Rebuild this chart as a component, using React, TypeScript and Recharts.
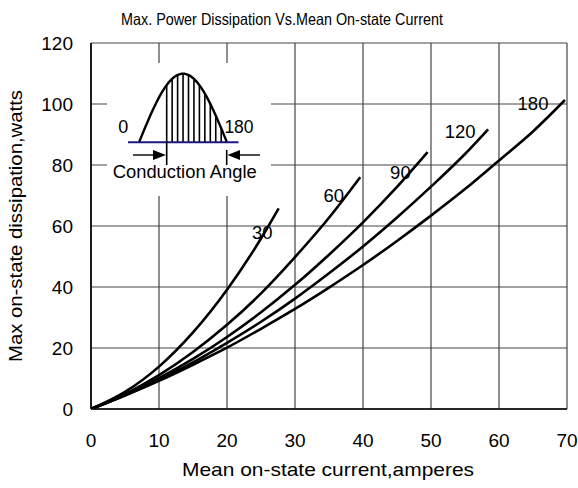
import React from 'react'
import {
  LineChart,
  Line,
  XAxis,
  YAxis,
  CartesianGrid,
  ReferenceDot,
  Customized,
  Label,
} from 'recharts'

// Mean on-state current (A) and max dissipation (W), one pair per conduction angle
const current30 = [0, 5, 10, 15, 20, 25, 27.6]
const power30 = [0, 5.6, 13.9, 25.1, 39.1, 55.9, 65.8]

const current60 = [0, 5, 10, 15, 20, 25, 30, 35, 39.6]
const power60 = [0, 4.9, 11.1, 18.7, 27.6, 37.9, 49.8, 62.7, 76]

const current90 = [0, 5, 10, 15, 20, 25, 30, 35, 40, 45, 49.5]
const power90 = [0, 4.6, 10.1, 16.4, 23.6, 31.7, 40.7, 50.6, 61.2, 72.8, 84.2]

const current120 = [0, 5, 10, 15, 20, 25, 30, 35, 40, 45, 50, 55, 58.4]
const power120 = [0, 4.5, 9.6, 15.3, 21.7, 28.6, 36.2, 44.5, 53.3, 62.8, 72.9, 83.6, 91.7]

const current180 = [0, 5, 10, 15, 20, 25, 30, 35, 40, 45, 50, 55, 60, 65, 69.7]
const power180 = [0, 4.4, 9.2, 14.5, 20.1, 26.3, 32.8, 39.8, 47.2, 55.1, 63.4, 72.1, 81.5, 91, 101.3]

const xTicks = [0, 10, 20, 30, 40, 50, 60, 70]
const yTicks = [0, 20, 40, 60, 80, 100, 120]

// where each angle's label sits, in chart units
const curveLabels = [
  { text: '30', current: 25.2, power: 58 },
  { text: '60', current: 35.7, power: 70.1 },
  { text: '90', current: 45.5, power: 77.4 },
  { text: '120', current: 54.3, power: 91 },
  { text: '180', current: 65, power: 100.2 },
]

const FONT = '"Liberation Sans", Arial, sans-serif'

const toPoints = (xs: number[], ys: number[]) =>
  xs.map((x, i) => ({ current: x, power: ys[i] }))

const series = [
  { name: '30', data: toPoints(current30, power30) },
  { name: '60', data: toPoints(current60, power60) },
  { name: '90', data: toPoints(current90, power90) },
  { name: '120', data: toPoints(current120, power120) },
  { name: '180', data: toPoints(current180, power180) },
]

// little half-wave sketch in the upper left corner, plus the title
function InsetSketch() {
  const x0 = 139.3
  const x1 = 226.7
  const base = 141.7
  const amp = 68
  const waveY = (x: number) => base - amp * Math.sin((Math.PI * (x - x0)) / (x1 - x0))

  let d = ''
  for (let i = 0; i <= 60; i++) {
    const x = x0 + ((x1 - x0) * i) / 60
    d += (i === 0 ? 'M' : 'L') + x.toFixed(2) + ',' + waveY(x).toFixed(2)
  }

  const hatch: number[] = []
  for (let k = 0; k <= 11; k++) hatch.push(166.7 + k * 5.45)

  return (
    <g>
      <rect x={107} y={63} width={164} height={133} fill="#fff" />
      <line x1={128} y1={142.3} x2={238.5} y2={142.3} stroke="#1a1a80" strokeWidth={2} />
      {hatch.map((x, i) => (
        <line key={i} x1={x} y1={base} x2={x} y2={waveY(x)} stroke="#000" strokeWidth={1.6} />
      ))}
      <path d={d} fill="none" stroke="#000" strokeWidth={2.4} />
      <line x1={166.7} y1={base} x2={166.7} y2={165} stroke="#000" strokeWidth={1.6} />
      <line x1={226.7} y1={150} x2={226.7} y2={165} stroke="#000" strokeWidth={1.6} />
      <line x1={133} y1={155} x2={154} y2={155} stroke="#000" strokeWidth={1.4} />
      <polygon points="153,150 166,155 153,160" fill="#000" />
      <line x1={240} y1={155} x2={260} y2={155} stroke="#000" strokeWidth={1.4} />
      <polygon points="240,150 227.5,155 240,160" fill="#000" />
      <text x={123.3} y={133} textAnchor="middle" fontSize={18} fontFamily={FONT} fill="#000">
        0
      </text>
      <text x={239} y={133} textAnchor="middle" fontSize={17.5} fontFamily={FONT} fill="#000">
        180
      </text>
      <text
        x={112.7}
        y={178}
        fontSize={18}
        fontFamily={FONT}
        fill="#000"
        textLength={144}
        lengthAdjust="spacingAndGlyphs"
      >
        Conduction Angle
      </text>
      <text
        x={121}
        y={25}
        fontSize={16.5}
        fontFamily={FONT}
        fill="#000"
        textLength={322}
        lengthAdjust="spacingAndGlyphs"
      >
        Max. Power Dissipation Vs.Mean On-state Current
      </text>
    </g>
  )
}

export default function App() {
  return (
    <div style={{ position: 'absolute', left: 0, top: 0, width: 578, height: 488, background: '#fff' }}>
      <LineChart
        width={578}
        height={488}
        margin={{ top: 43, right: 11, bottom: 0, left: 0 }}
      >
        <CartesianGrid stroke="#444" strokeWidth={1.2} />
        <XAxis
          dataKey="current"
          type="number"
          domain={[0, 70]}
          ticks={xTicks}
          interval={0}
          height={79}
          allowDataOverflow
          axisLine={{ stroke: '#000', strokeWidth: 1.6 }}
          tickLine={false}
          tickSize={6}
          tickMargin={19}
          tick={{ fill: '#000', fontSize: 19, fontFamily: FONT }}
        >
          <Label
            content={(props: any) => {
              const vb = props.viewBox
              return (
                <text
                  x={vb.x + vb.width / 2 - 1}
                  y={vb.y + 67}
                  textAnchor="middle"
                  fontSize={19}
                  fontFamily={FONT}
                  fill="#000"
                  textLength={292}
                  lengthAdjust="spacingAndGlyphs"
                >
                  Mean on-state current,amperes
                </text>
              )
            }}
          />
        </XAxis>
        <YAxis
          type="number"
          domain={[0, 120]}
          ticks={yTicks}
          interval={0}
          width={91}
          allowDataOverflow
          axisLine={{ stroke: '#000', strokeWidth: 1.6 }}
          tickLine={false}
          tickSize={6}
          tickMargin={12}
          tick={{ fill: '#000', fontSize: 19, fontFamily: FONT }}
        >
          <Label
            content={() => (
              <text
                x={21.5}
                y={226}
                transform="rotate(-90, 21.5, 226)"
                textAnchor="middle"
                fontSize={19}
                fontFamily={FONT}
                fill="#000"
                textLength={272}
                lengthAdjust="spacingAndGlyphs"
              >
                Max on-state dissipation,watts
              </text>
            )}
          />
        </YAxis>
        <Customized component={InsetSketch} />
        {series.map((s) => (
          <Line
            key={s.name}
            data={s.data}
            dataKey="power"
            type="monotone"
            stroke="#000"
            strokeWidth={2.6}
            dot={false}
            activeDot={false}
            isAnimationActive={false}
          />
        ))}
        {curveLabels.map((l) => (
          <ReferenceDot
            key={l.text}
            x={l.current}
            y={l.power}
            r={0}
            fill="none"
            stroke="none"
            ifOverflow="visible"
            label={{ value: l.text, position: 'center', fontSize: 18.5, fill: '#000', fontFamily: FONT }}
          />
        ))}
      </LineChart>
    </div>
  )
}
